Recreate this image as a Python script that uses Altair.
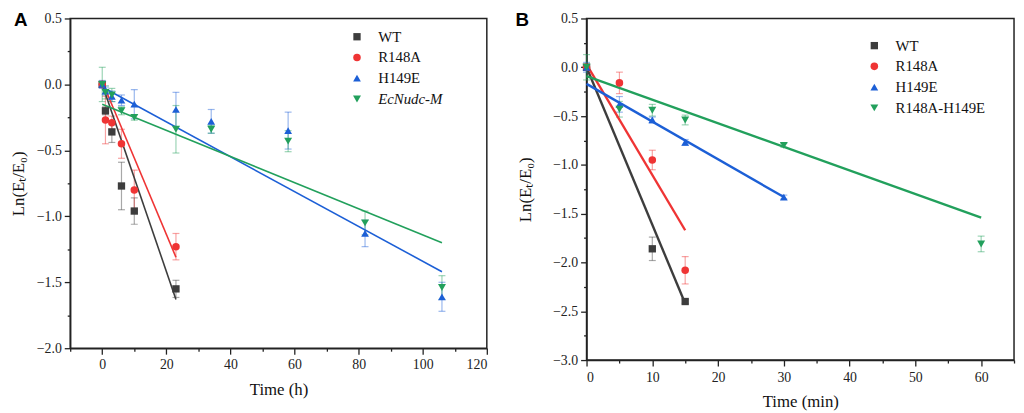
import altair as alt
import pandas as pd

FONT = "Liberation Serif"
YTITLE = "Ln(Eₜ/E₀)"

series_A = ["WT", "R148A", "H149E", "EcNudc-M"]
series_B = ["WT", "R148A", "H149E", "R148A-H149E"]
colors = ["#3d3d3d", "#ef3434", "#1c5fd6", "#22a05c"]
shapes = ["square", "circle", "triangle-up", "triangle-down"]
marker_sizes = [55, 65, 100, 100]

# ---------- Panel A (Time, h) ----------
a_wt_t = [0, 1, 3, 6, 10, 23]
a_wt_y = [0.0, -0.20, -0.36, -0.77, -0.96, -1.55]
a_wt_e = [0.02, 0.03, 0.08, 0.18, 0.10, 0.065]

a_r_t = [0, 1, 3, 6, 10, 23]
a_r_y = [0.0, -0.27, -0.29, -0.45, -0.80, -1.23]
a_r_e = [0.02, 0.18, 0.05, 0.11, 0.15, 0.10]

a_h_t = [0, 1, 3, 6, 10, 23, 34, 58, 82, 106]
a_h_y = [0.0, -0.05, -0.09, -0.12, -0.15, -0.19, -0.28, -0.35, -1.13, -1.61]
a_h_e = [0.03, 0.03, 0.04, 0.04, 0.11, 0.13, 0.09, 0.14, 0.10, 0.11]

a_m_t = [0, 1, 3, 6, 10, 23, 34, 58, 82, 106]
a_m_y = [0.0, -0.06, -0.08, -0.20, -0.25, -0.34, -0.34, -0.43, -1.05, -1.54]
a_m_e = [0.13, 0.05, 0.05, 0.03, 0.02, 0.18, 0.03, 0.08, 0.09, 0.09]

# fitted lines (start/end)
a_fit_t = {"WT": [0, 23], "R148A": [0, 23], "H149E": [0, 106], "EcNudc-M": [0, 106]}
a_fit_y = {"WT": [0.0, -1.63], "R148A": [0.02, -1.31], "H149E": [-0.02, -1.42], "EcNudc-M": [-0.15, -1.20]}

# ---------- Panel B (Time, min) ----------
b_wt_t = [0, 10, 15]
b_wt_y = [0.0, -1.86, -2.40]
b_wt_e = [0.03, 0.12, 0.02]

b_r_t = [0, 5, 10, 15]
b_r_y = [0.0, -0.16, -0.95, -2.08]
b_r_e = [0.03, 0.11, 0.10, 0.14]

b_h_t = [0, 5, 10, 15, 30]
b_h_y = [0.0, -0.38, -0.54, -0.77, -1.33]
b_h_e = [0.05, 0.08, 0.03, 0.03, 0.02]

b_m_t = [0, 5, 10, 15, 30, 60]
b_m_y = [0.0, -0.43, -0.44, -0.54, -0.80, -1.81]
b_m_e = [0.13, 0.08, 0.06, 0.05, 0.02, 0.08]

b_fit_t = {"WT": [0, 15], "R148A": [0, 15], "H149E": [0, 30], "R148A-H149E": [0, 60]}
b_fit_y = {"WT": [0.0, -2.42], "R148A": [0.03, -1.67], "H149E": [-0.17, -1.33], "R148A-H149E": [-0.09, -1.54]}

# axis tick values
a_xticks = [-10, 0, 10, 20, 30, 40, 50, 60, 70, 80, 90, 100, 110, 120]
a_yticks = [-2.0, -1.75, -1.5, -1.25, -1.0, -0.75, -0.5, -0.25, 0.0, 0.25, 0.5]
b_xticks = [0, 5, 10, 15, 20, 25, 30, 35, 40, 45, 50, 55, 60, 65]
b_yticks = [-3.0, -2.75, -2.5, -2.25, -2.0, -1.75, -1.5, -1.25, -1.0, -0.75, -0.5,
            -0.25, 0.0, 0.25, 0.5]


def points_frame(names, ts, ys, es):
    rows = []
    for name, t, y, e in zip(names, ts, ys, es):
        for ti, yi, ei in zip(t, y, e):
            rows.append({"series": name, "t": ti, "y": yi, "lo": yi - ei, "hi": yi + ei})
    return pd.DataFrame(rows)


def fit_frame(names, fit_t, fit_y):
    rows = []
    for name in names:
        for ti, yi in zip(fit_t[name], fit_y[name]):
            rows.append({"series": name, "t": ti, "y": yi})
    return pd.DataFrame(rows)


def panel(names, pts, fits, xdom, xvals, xmajor, ydom, yvals, xtitle, letter,
          width, height, legx, legy, lw, x_lp, x_tp, y_tp, letter_x, italic_label=None):
    color_scale = alt.Scale(domain=names, range=colors)
    shape_scale = alt.Scale(domain=names, range=shapes)
    size_scale = alt.Scale(domain=names, range=marker_sizes)
    minor_x = f"(datum.value % {xmajor}) != 0"
    minor_y = "(round(datum.value * 100) % 50) != 0"
    xaxis = alt.Axis(
        values=xvals, title=xtitle, grid=False,
        labelExpr=f"{minor_x} ? '' : format(datum.value, 'd')",
        tickSize={"condition": {"test": minor_x, "value": 3}, "value": 6},
        labelPadding=x_lp, titlePadding=x_tp, labelOverlap=False,
    )
    yaxis = alt.Axis(
        values=yvals, title=YTITLE, grid=False,
        labelExpr=f"{minor_y} ? '' : format(datum.value, '.1f')",
        tickSize={"condition": {"test": minor_y, "value": 3}, "value": 6},
        labelPadding=3, titlePadding=y_tp, labelOverlap=False,
    )
    xscale = alt.Scale(domain=xdom, nice=False, zero=False)
    yscale = alt.Scale(domain=ydom, nice=False, zero=False)
    x = alt.X("t:Q", scale=xscale, axis=xaxis)
    y = alt.Y("y:Q", scale=yscale, axis=yaxis)

    legend_kwargs = dict(
        title=None, orient="none", legendX=legx, legendY=legy,
        labelFont=FONT, labelFontSize=15, labelColor="#111", symbolSize=40,
        symbolStrokeWidth=0, symbolOpacity=1, rowPadding=5, labelOffset=14, padding=0,
    )
    if italic_label:
        legend_kwargs["labelFontStyle"] = alt.ExprRef(
            f"datum.label == '{italic_label}' ? 'italic' : 'normal'")
    legend = alt.Legend(**legend_kwargs)
    color = alt.Color("series:N", scale=color_scale, legend=legend, sort=names)

    base = alt.Chart(pts)
    err = base.mark_errorbar(ticks={"size": 7}, opacity=0.45, thickness=1.2).encode(
        x=x,
        y=alt.Y("lo:Q", scale=yscale, axis=yaxis, title=YTITLE),
        y2="hi:Q",
        color=color,
    )
    pts_layer = base.mark_point(filled=True, opacity=1).encode(
        x=x, y=y,
        color=color,
        shape=alt.Shape("series:N", scale=shape_scale, legend=legend, sort=names),
        size=alt.Size("series:N", scale=size_scale, legend=None),
    )
    lines = alt.Chart(fits).mark_line(strokeWidth=lw).encode(
        x=x, y=y,
        color=color,
        detail="series:N",
    )
    letter_layer = alt.Chart(pd.DataFrame({"l": [letter]})).mark_text(
        font="Liberation Sans", fontWeight="bold", fontSize=19, align="left",
        baseline="top", color="black",
    ).encode(x=alt.value(letter_x), y=alt.value(-7), text="l:N")
    return alt.layer(err, lines, pts_layer, letter_layer).properties(width=width, height=height)


pts_A = points_frame(series_A, [a_wt_t, a_r_t, a_h_t, a_m_t], [a_wt_y, a_r_y, a_h_y, a_m_y],
                     [a_wt_e, a_r_e, a_h_e, a_m_e])
pts_B = points_frame(series_B, [b_wt_t, b_r_t, b_h_t, b_m_t], [b_wt_y, b_r_y, b_h_y, b_m_y],
                     [b_wt_e, b_r_e, b_h_e, b_m_e])

chart_A = panel(series_A, pts_A, fit_frame(series_A, a_fit_t, a_fit_y),
                [-10, 120], a_xticks, 20, [-2.0, 0.5], a_yticks,
                "Time (h)", "A", 422, 334, 283, 11, 1.6, 4, 10, 9, -57,
                italic_label="EcNudc-M")
chart_B = panel(series_B, pts_B, fit_frame(series_B, b_fit_t, b_fit_y),
                [0, 65], b_xticks, 10, [-3.0, 0.5], b_yticks,
                "Time (min)", "B", 433, 346, 284, 20, 2.4, 5, 9, 18, -72)

chart = alt.hconcat(chart_A, chart_B, spacing=101, bounds="flush").resolve_scale(
    color="independent", shape="independent", size="independent"
).properties(padding={"left": 0, "top": 0, "right": 0, "bottom": 0}).configure_view(
    stroke="#222", strokeWidth=1.5
).configure_axis(
    labelFont=FONT, labelFontSize=14, labelColor="#222",
    titleFont=FONT, titleFontSize=17, titleFontWeight="normal", titleColor="#111",
    domainColor="#222", domainWidth=1.5, tickColor="#222", tickWidth=1.3,
)

chart.save("out.html", embed_options={"renderer": "svg", "actions": False})
